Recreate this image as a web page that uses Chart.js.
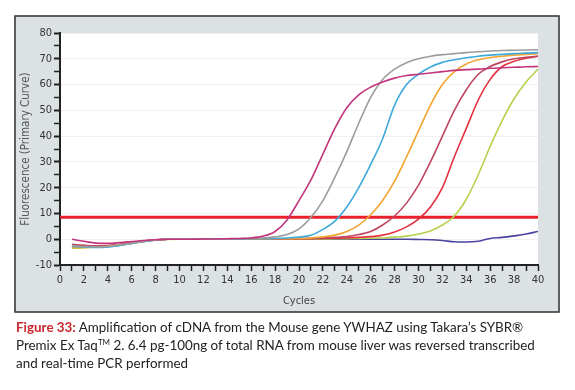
<!DOCTYPE html>
<html>
<head>
<meta charset="utf-8">
<script src="https://cdn.jsdelivr.net/npm/chart.js@4.4.1/dist/chart.umd.min.js"></script>
<style>
  html, body { margin: 0; padding: 0; background: #fff; }
  #wrap { position: relative; width: 575px; height: 390px; }
  #chart { position: absolute; left: 0; top: 0; }
  #caption {
    position: absolute; left: 16px; top: 318px; width: 550px;
    font-family: "Lato", "Open Sans", sans-serif; font-size: 13.4px; line-height: 18px;
    color: #222;
  }
  #caption b { color: #c8282e; }
  #caption sup { font-size: 8px; line-height: 0; }
</style>
</head>
<body>
<div id="wrap">
  <canvas id="chart" width="575" height="390"></canvas>
  <div id="caption"><b>Figure 33:</b> Amplification of cDNA from the Mouse gene YWHAZ using Takara’s SYBR®<br>Premix Ex Taq<sup>TM</sup> 2. 6.4 pg-100ng of total RNA from mouse liver was reversed transcribed<br>and real-time PCR performed</div>
</div>
<script>
// PCR amplification curves (cycle 1..40)
const cycles = [1,2,3,4,5,6,7,8,9,10,11,12,13,14,15,16,17,18,19,20,21,22,23,24,25,26,27,28,29,30,31,32,33,34,35,36,37,38,39,40];

const magenta = [0,-0.8,-1.5,-1.6,-1.3,-0.9,-0.5,-0.2,0,0,0,0.1,0.1,0.2,0.3,0.5,1.2,3,7.5,15,23,33,43,51,56,59,61,62.5,63.5,64,64.5,65,65.5,65.8,66,66.3,66.5,66.7,66.9,67];
const gray = [-2.5,-2.8,-3,-2.8,-2.2,-1.5,-0.8,-0.3,0,0,0,0,0.1,0.1,0.2,0.3,0.5,0.9,1.8,4,8.5,15,24,34,45,55,62,66,68.5,70,71,71.6,72,72.4,72.7,73,73.2,73.3,73.4,73.5];
const cyan = [-2.8,-3,-3.2,-3,-2.4,-1.6,-0.9,-0.3,0,0,0,0,0,0.1,0.1,0.2,0.2,0.3,0.5,0.8,1.5,3.8,7,12.5,20,29,39,52,60,64,66.8,68.6,69.6,70.4,71,71.4,71.7,72,72.2,72.4];
const orange = [-3.3,-3.2,-3,-2.7,-2.2,-1.5,-0.8,-0.3,0,0,0,0,0,0,0.1,0.1,0.1,0.2,0.2,0.3,0.5,0.9,1.6,3,5.5,9.5,15,22.5,32,42,52,60,65,68,69.6,70.5,71,71.4,71.7,72];
const brown = [-2,-2.4,-2.6,-2.5,-2,-1.4,-0.8,-0.3,0,0,0,0,0,0,0,0,0.1,0.1,0.2,0.3,0.4,0.5,0.7,1,1.8,3,5.5,9,14,21,30,40,50,58,64,67,68.8,70,70.6,71];
const red = [-2.2,-2.5,-2.8,-2.6,-2.1,-1.4,-0.7,-0.2,0,0,0,0,0,0,0,0,0,0.1,0.1,0.2,0.2,0.3,0.4,0.5,0.7,1,1.6,2.8,4.8,7.8,12.5,20,32,43,54,62,67,69,70.2,71];
const lime = [-3.5,-3.3,-3,-2.8,-2.3,-1.6,-0.9,-0.4,-0.1,0,0,0,0,0,0,0,0,0,0,0.1,0.1,0.1,0.2,0.2,0.3,0.4,0.5,0.8,1.2,2,3.2,5.5,9,15.5,25,36,46,54.5,61,66];
const navy = [-2.6,-2.9,-3.1,-2.9,-2.3,-1.6,-0.9,-0.3,0,0,0,0,0,0,0,0,0,0,0,0,0,0,0,0,0,0,0,0,0,-0.1,-0.2,-0.5,-1,-1.1,-0.8,0.3,0.7,1.3,2,3];
const threshold = [8.5, 8.5];
const thresholdX = [0, 40];

const seriesList = [
  { name: "magenta", values: magenta, color: "#c2357d" },
  { name: "gray", values: gray, color: "#9c9c9c" },
  { name: "cyan", values: cyan, color: "#3fa9dc" },
  { name: "orange", values: orange, color: "#f3a531" },
  { name: "brown", values: brown, color: "#bf4660" },
  { name: "red", values: red, color: "#e2303f" },
  { name: "lime", values: lime, color: "#b5d24e" },
  { name: "navy", values: navy, color: "#4a44a0" }
];

const datasets = seriesList.map(s => ({
  label: s.name,
  data: cycles.map((c, i) => ({ x: c, y: s.values[i] })),
  borderColor: s.color,
  borderWidth: 1.6,
  pointRadius: 0,
  cubicInterpolationMode: "monotone",
  fill: false
}));
datasets.push({
  label: "threshold",
  data: thresholdX.map((x, i) => ({ x: x, y: threshold[i] })),
  borderColor: "#e8202a",
  borderWidth: 3,
  pointRadius: 0,
  fill: false
});

// gray frame + white plot area behind the chart
const framePlugin = {
  id: "frame",
  beforeDraw(chart) {
    const ctx = chart.ctx, a = chart.chartArea;
    ctx.save();
    ctx.fillStyle = "#dce2e4";
    ctx.fillRect(15, 16, 544, 296);
    ctx.strokeStyle = "#3a3a3a";
    ctx.lineWidth = 1.6;
    ctx.strokeRect(15, 16, 544, 296);
    ctx.fillStyle = "#ffffff";
    ctx.fillRect(a.left, a.top, a.right - a.left, a.bottom - a.top);
    ctx.restore();
  }
};

const tickFont = { family: "'Liberation Sans Narrow', 'DejaVu Sans Condensed', 'Roboto', sans-serif", size: 11 };

new Chart(document.getElementById("chart"), {
  type: "line",
  data: { datasets },
  plugins: [framePlugin],
  options: {
    responsive: false,
    animation: false,
    devicePixelRatio: 1,
    layout: { padding: { left: 15, top: 33, right: 37, bottom: 78 } },
    plugins: { legend: { display: false }, tooltip: { enabled: false } },
    scales: {
      x: {
        type: "linear", min: 0, max: 40,
        afterFit(scale) { scale.height = 47; },
        border: { display: true, color: "#222", width: 2 },
        grid: { drawOnChartArea: false, drawTicks: true, tickLength: 6, tickColor: "#222", tickWidth: 1.5 },
        ticks: {
          stepSize: 1, autoSkip: false, maxRotation: 0, padding: 3,
          color: "#333", font: tickFont,
          callback: v => (v % 2 === 0 ? String(v) : "")
        },
        title: { display: true, text: "Cycles", color: "#444", font: { family: tickFont.family, size: 11 }, padding: { top: 2 } }
      },
      y: {
        min: -10, max: 80,
        afterFit(scale) { scale.width = 45; },
        border: { display: true, color: "#222", width: 2 },
        grid: {
          drawTicks: true, tickLength: 6,
          color: ctx => (ctx.tick && ctx.tick.value % 10 === 0 ? "#f1f1f1" : "rgba(0,0,0,0)"),
          tickColor: "#222",
          tickWidth: ctx => (ctx.tick && ctx.tick.value % 10 === 0 ? 2 : 1.5)
        },
        ticks: {
          stepSize: 5, autoSkip: false, padding: 2,
          color: "#333", font: tickFont,
          callback: v => (v % 10 === 0 ? String(v) : "")
        },
        title: { display: true, text: "Fluorescence (Primary Curve)", color: "#555", font: { family: tickFont.family, size: 11.5 }, padding: { bottom: 2 } }
      }
    }
  }
});
</script>
</body>
</html>
